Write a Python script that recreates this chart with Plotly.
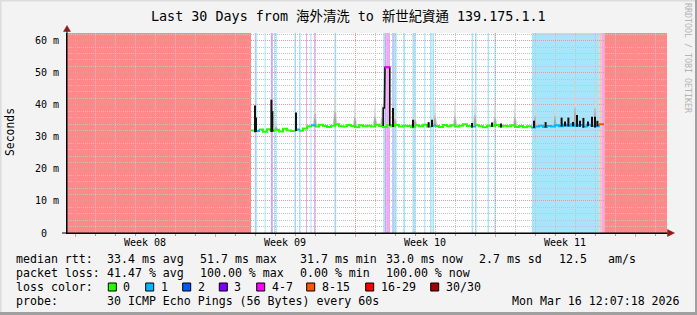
import numpy as np
import plotly.graph_objects as go

# ---------------- text ----------------
TITLE = "Last 30 Days from 海外清洗 to 新世紀資通 139.175.1.1"
Y_LABEL = "Seconds"
CREDIT = "RRDTOOL / TOBI OETIKER"
TIMESTAMP = "Mon Mar 16 12:07:18 2026"
PROBE_TEXT = "30 ICMP Echo Pings (56 Bytes) every 60s"
rtt_legend = ["median rtt:", "33.4 ms avg", "51.7 ms max", "31.7 ms min",
              "33.0 ms now", "2.7 ms sd", "12.5", "am/s"]
loss_legend = ["packet loss:", "41.47 % avg", "100.00 % max", "0.00 % min", "100.00 % now"]

# ---------------- axes ----------------
x_range_days = [0, 30]
week_labels = ["Week 08", "Week 09", "Week 10", "Week 11"]
week_start_days = [0.4, 7.4, 14.4, 21.4, 28.4]
y_range_ms = [0, 62.4]
y_tick_values = [0, 10, 20, 30, 40, 50, 60]
y_tick_labels = ["0\u00a0\u00a0", "10 m", "20 m", "30 m", "40 m", "50 m", "60 m"]

# ---------------- loss classes ----------------
loss_class_labels = ["0", "1", "2", "3", "4-7", "8-15", "16-29", "30/30"]
loss_line_colors = ["#26ff00", "#00b8ff", "#0059ff", "#7e00ff", "#ff00ff", "#ff5500", "#ff0000", "#a10000"]
loss_band_colors = ["#ffffff", "#a6e5fb", "#a9c3fa", "#c5a8f3", "#f2a9f2", "#ffc29b", "#ff9a9a", "#ff8888"]

# loss background bands (days from graph start)
band_start = [0.0, 9.39, 9.46, 9.88, 10.19, 10.35, 10.44, 11.37, 11.60, 11.95, 12.17, 12.35,
              13.37, 15.81, 15.89, 15.96, 16.26, 16.34, 16.81, 17.27, 17.86, 18.15, 18.27,
              20.23, 20.40, 21.03, 21.37, 23.24, 26.62, 26.72, 26.87]
band_end = [9.2, 9.44, 9.51, 9.93, 10.29, 10.40, 10.49, 11.45, 11.68, 12.00, 12.22, 12.43,
            13.46, 15.89, 15.96, 16.15, 16.34, 16.48, 16.90, 17.43, 17.92, 18.23, 18.35,
            20.31, 20.48, 21.10, 21.44, 26.62, 26.72, 26.87, 30.0]
band_class = [7, 2, 1, 1, 3, 1, 1, 1, 1, 4, 1, 4,
              1, 1, 3, 4, 2, 1, 1, 1, 1, 1, 1,
              1, 1, 1, 1, 1, 5, 4, 7]

# ---------------- median rtt (ms), sampled every 0.2 day from day 9.2 ----------------
median_start_day = 9.2
median_step_day = 0.2
median_ms = [
    32.0, 31.8, 32.3, 31.6, 32.4, 31.9, 32.2, 31.7, 32.5, 32.0, 31.8, 32.3, 31.9, 32.6,
    33.3,
    33.6, 33.2, 33.8, 33.4, 33.1, 33.5, 33.9, 33.3, 33.2, 33.7,
    33.4, 33.0, 33.6, 33.3, 33.5, 33.2, 33.8, 33.4, 33.1, 33.6,
    33.3, 33.7, 33.2, 33.5, 33.4, 33.0, 33.6, 33.3, 33.8, 33.2,
    33.5, 33.4, 33.1, 33.7, 33.3, 33.6, 33.2, 33.5, 33.9, 33.4,
    33.2, 33.6, 33.3, 33.0, 33.5, 33.4, 33.7, 33.2, 33.5, 33.3,
    33.6, 33.1, 33.4, 33.0, 33.3, 32.9, 33.2, 33.5, 33.1, 33.4,
    33.2, 33.6, 33.3, 33.8, 33.5, 33.9, 33.4, 33.7, 33.2, 33.8,
    33.5, 33.3, 33.9, 33.6,
]
median_loss = [
    0, 1, 0, 0, 0, 0, 0, 0, 0, 0, 0, 1, 0, 0,
    0,
    1, 0, 0, 0, 0, 0, 0, 0, 0, 0,
    0, 0, 0, 0, 0, 0, 0, 0, 0, 0,
    0, 0, 0, 0, 0, 0, 0, 0, 0, 0,
    1, 0, 0, 0, 0, 0, 0, 0, 0, 0,
    1, 0, 0, 0, 0, 0, 0, 0, 0, 0,
    0, 0, 0, 0, 0, 1, 1, 1, 1, 1,
    1, 1, 1, 1, 1, 1, 1, 1, 1, 1,
    1, 1, 5, 4,
]

# outage event (median outline)
event_days = [15.81, 15.81, 15.87, 15.87, 15.90, 16.14, 16.14]
event_ms = [33.4, 39.0, 39.0, 48.8, 51.7, 51.7, 33.5]
event_top_days = [15.90, 16.14]
event_top_ms = [51.7, 51.7]

# dense (dark) smoke spikes: day, peak ms
spike_days = [9.40, 9.45, 10.22, 10.27, 11.45, 16.30, 17.30, 18.08, 18.25, 20.25, 21.25, 21.70,
              23.35, 23.93, 24.73, 24.90, 25.07, 25.30, 25.50, 25.65, 25.82, 26.05, 26.25, 26.40, 26.52]
spike_peak_ms = [39.8, 36.0, 41.6, 38.0, 37.6, 39.0, 35.3, 34.6, 35.3, 34.3, 34.5, 34.2,
                 35.0, 34.6, 36.0, 34.8, 36.0, 34.6, 36.8, 35.0, 35.9, 34.8, 36.3, 36.3, 35.0]

# light smoke spikes (ping spread): day, peak ms
smoke_days = [10.45, 12.4, 13.4, 14.4, 15.4, 15.75, 16.4, 17.4, 18.4, 19.4, 20.4, 21.4,
              22.4, 23.4, 24.4, 25.4, 26.4]
smoke_peak_ms = [34.8, 43.0, 44.0, 41.0, 40.0, 40.0, 38.5, 38.0, 41.0, 41.0, 41.5, 40.0,
                 41.0, 41.5, 41.0, 47.7, 47.5]

# ---------------- geometry helpers ----------------
W, H = 697, 315
PL, PT, PW, PH = 67, 33, 600, 200


def pxx(px):
    return (px - PL) / PW


def pxy(py):
    return (PT + PH - py) / PH


MONO = "DejaVu Sans Mono, Noto Sans CJK TC, monospace"

fig = go.Figure()

median_days = median_start_day + median_step_day * np.arange(len(median_ms))

# light smoke spikes: one polygon trace per spike
for d, pk in zip(smoke_days, smoke_peak_ms):
    base = float(np.interp(d, median_days, median_ms))
    mid = base + (pk - base) * 0.4
    fig.add_trace(go.Scatter(x=[d - 0.12, d - 0.045, d - 0.02, d + 0.02, d + 0.045, d + 0.12, d - 0.12],
                             y=[base, mid, pk, pk, mid, base, base], mode="none", fill="toself",
                             fillcolor="#d4d4d4", hoverinfo="skip", showlegend=False))
    fig.add_trace(go.Scatter(x=[d - 0.07, d - 0.02, d + 0.02, d + 0.07, d - 0.07],
                             y=[base, mid, mid, base, base], mode="none", fill="toself",
                             fillcolor="#a8a8a8", hoverinfo="skip", showlegend=False))

# median line coloured by loss
n = len(median_ms)
for cls in sorted(set(median_loss)):
    xs, ys = [], []
    i = 0
    while i < n - 1:
        if median_loss[i] == cls:
            xs.append(median_days[i]); ys.append(median_ms[i])
            j = i
            while j < n - 1 and median_loss[j] == cls:
                j += 1
                xs.append(median_days[j]); ys.append(median_ms[j])
            xs.append(None); ys.append(None)
            i = j
        else:
            i += 1
    if xs:
        fig.add_trace(go.Scatter(x=xs, y=ys, mode="lines",
                                 line=dict(color=loss_line_colors[cls], width=2, shape="hv"),
                                 hoverinfo="skip", showlegend=False))

# dark smoke spikes
kx, ky = [], []
for d, pk in zip(spike_days, spike_peak_ms):
    base = float(np.interp(d, median_days, median_ms))
    kx += [d, d, None]
    ky += [base - 0.4, pk, None]
fig.add_trace(go.Scatter(x=kx, y=ky, mode="lines", line=dict(color="#111111", width=2),
                         hoverinfo="skip", showlegend=False))

# outage event
fig.add_trace(go.Scatter(x=event_days, y=event_ms, mode="lines", line=dict(color="#111111", width=1.6),
                         hoverinfo="skip", showlegend=False))
fig.add_trace(go.Scatter(x=event_top_days, y=event_top_ms, mode="lines", line=dict(color="#ff00ff", width=2.5),
                         hoverinfo="skip", showlegend=False))

shapes = []
# loss bands (below grid)
for s, e, c in zip(band_start, band_end, band_class):
    shapes.append(dict(type="rect", xref="x", yref="paper", x0=s, x1=e, y0=0, y1=1,
                       fillcolor=loss_band_colors[c], line=dict(width=0), layer="below"))

# axis extensions and arrows
ARROW = "#8e1b1b"
shapes.append(dict(type="line", xref="paper", yref="paper", x0=pxx(62), x1=pxx(669), y0=0, y1=0,
                   line=dict(color="#000000", width=1)))
shapes.append(dict(type="line", xref="paper", yref="paper", x0=0, x1=0, y0=0, y1=pxy(29),
                   line=dict(color="#000000", width=1)))
shapes.append(dict(type="path", xref="paper", yref="paper",
                   path=f"M {pxx(667.5)} {pxy(229.5)} L {pxx(674.5)} {pxy(233)} L {pxx(667.5)} {pxy(236.5)} Z",
                   fillcolor=ARROW, line=dict(color=ARROW, width=0.5)))
shapes.append(dict(type="path", xref="paper", yref="paper",
                   path=f"M {pxx(63.5)} {pxy(31.5)} L {pxx(67)} {pxy(25.5)} L {pxx(70.5)} {pxy(31.5)} Z",
                   fillcolor=ARROW, line=dict(color=ARROW, width=0.5)))

# frame
shapes.append(dict(type="line", xref="paper", yref="paper", x0=pxx(0), x1=pxx(697), y0=pxy(0.5), y1=pxy(0.5),
                   line=dict(color="#dcdcdc", width=2)))
shapes.append(dict(type="line", xref="paper", yref="paper", x0=pxx(0.5), x1=pxx(0.5), y0=pxy(0), y1=pxy(315),
                   line=dict(color="#dcdcdc", width=2)))
shapes.append(dict(type="line", xref="paper", yref="paper", x0=pxx(0), x1=pxx(697), y0=pxy(313.5), y1=pxy(313.5),
                   line=dict(color="#a0a0a0", width=3)))
shapes.append(dict(type="line", xref="paper", yref="paper", x0=pxx(696), x1=pxx(696), y0=pxy(0), y1=pxy(315),
                   line=dict(color="#a0a0a0", width=2)))

# legend colour boxes
box_left_px = [108.3, 145.7, 182.7, 219.3, 256.7, 306.7, 365.7, 430.7]
for bx, col in zip(box_left_px, loss_line_colors):
    shapes.append(dict(type="rect", xref="paper", yref="paper", x0=pxx(bx), x1=pxx(bx + 8),
                       y0=pxy(291), y1=pxy(283), fillcolor=col, line=dict(color="#000000", width=1)))

annotations = []


def txt(s, x_px, y_px, size=11.6, anchor="left", color="#000000", angle=0, family=MONO):
    annotations.append(dict(text=s, xref="paper", yref="paper", x=pxx(x_px), y=pxy(y_px),
                            xanchor=anchor, yanchor="middle", showarrow=False, textangle=angle,
                            font=dict(family=family, size=size, color=color),
                            borderpad=0, borderwidth=0))


txt(TITLE, 348, 16, size=13.4, anchor="center")
txt(Y_LABEL, 10, 132, size=11.4, anchor="center", angle=-90)
txt(CREDIT, 688, 58, size=8.3, anchor="center", color="#b4b4b4", angle=90)

for lbl, ws in zip(week_labels, week_start_days):
    annotations.append(dict(text=lbl, xref="x", yref="paper", x=ws + 3.5, y=pxy(242.5),
                            xanchor="center", yanchor="middle", showarrow=False,
                            font=dict(family=MONO, size=10, color="#000000"), borderpad=0, borderwidth=0))

col_px = [16, 107.3, 200, 300, 386, 479, 559, 607.7]
for s, c in zip(rtt_legend, col_px):
    txt(s, c, 259)
for s, c in zip(loss_legend, col_px):
    txt(s, c, 273.3)
txt("loss color:", 16, 287.3)
label_px = [123.3, 161, 197.7, 234.3, 271.7, 321.7, 380.7, 446]
for s, c in zip(loss_class_labels, label_px):
    txt(s, c, 287.3)
txt("probe:", 16, 301)
txt(PROBE_TEXT, 107.3, 301)
txt(TIMESTAMP, 680, 301, anchor="right")

GRID_MAJOR = "#e29a9a"
GRID_MINOR = "#c4c4c4"

fig.update_layout(
    width=W, height=H, autosize=False,
    margin=dict(l=PL, r=W - PL - PW, t=PT, b=H - PT - PH, pad=0),
    paper_bgcolor="#f3f3f3", plot_bgcolor="#ffffff",
    showlegend=False,
    shapes=shapes, annotations=annotations,
    xaxis=dict(range=x_range_days, showgrid=True, gridcolor=GRID_MAJOR, griddash="1px,1px", gridwidth=1,
               tickmode="array", tickvals=week_start_days, showticklabels=False,
               ticks="outside", ticklen=3, tickcolor=GRID_MAJOR, zeroline=False,
               showline=True, linecolor="#000000", linewidth=1,
               minor=dict(tickmode="linear", tick0=week_start_days[0], dtick=1, showgrid=True,
                          gridcolor=GRID_MINOR, griddash="1px,1px", ticks="outside", ticklen=2,
                          tickcolor="#a0a0a0"),
               fixedrange=True),
    yaxis=dict(range=y_range_ms, showgrid=True, gridcolor=GRID_MAJOR, griddash="1px,1px", gridwidth=1,
               tickmode="array", tickvals=y_tick_values, ticktext=y_tick_labels,
               tickfont=dict(family=MONO, size=10, color="#000000"),
               ticks="outside", ticklen=5, tickcolor="rgba(0,0,0,0)", zeroline=False,
               showline=True, linecolor="#000000", linewidth=1,
               minor=dict(tickmode="linear", tick0=0, dtick=2, showgrid=True,
                          gridcolor=GRID_MINOR, griddash="1px,1px"),
               fixedrange=True),
)

fig.write_html("out.html")
